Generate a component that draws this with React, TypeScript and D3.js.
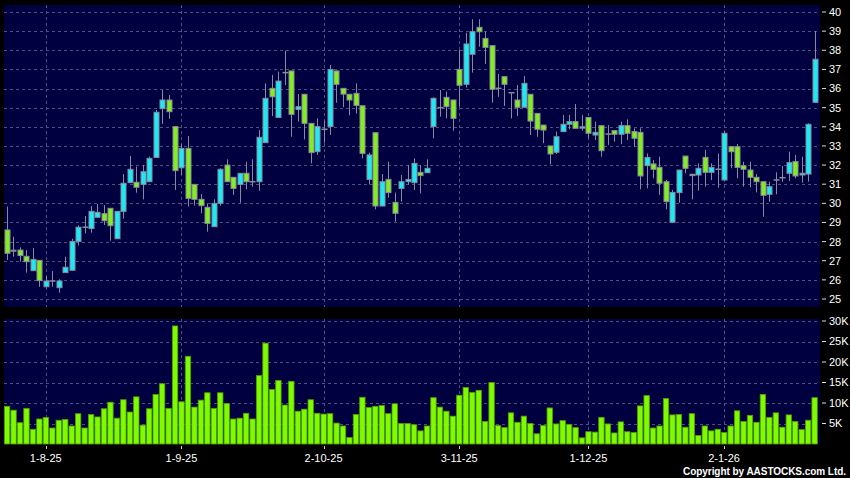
import React from "react";
import * as d3 from "d3";

const opens = [28.61,27.55,27.56,27.23,26.48,27.02,25.64,25.94,25.59,26.38,26.5,28.01,28.75,28.68,29.27,29.46,29.74,28.15,29.58,31.08,31.1,30.99,31.13,32.4,34.95,35.4,34.01,31.86,32.87,30.99,30.21,29.79,28.78,30.0,32.0,31.36,30.99,31.57,31.13,31.13,33.17,36.01,34.49,36.83,36.92,34.91,35.7,34.18,32.7,33.87,34.01,36.92,36.01,35.7,35.75,35.1,31.25,33.69,29.86,31.25,30.05,30.78,31.13,31.08,31.62,31.6,34.01,35.0,35.54,35.4,37.0,36.22,37.79,39.2,38.62,38.24,36.01,36.62,35.78,35.4,35.02,35.7,34.7,34.09,33.0,32.67,33.75,34.13,34.27,33.93,34.49,33.57,34.06,33.62,33.8,33.61,34.06,33.75,33.71,31.97,32.06,31.88,31.13,29.01,30.56,32.47,31.52,31.48,32.4,31.62,31.78,31.22,32.96,32.96,31.97,31.74,31.36,31.13,30.47,31.22,31.34,31.57,32.18,31.48,31.53,35.28];
const highs = [29.83,28.26,27.7,27.56,27.67,27.02,26.2,26.46,26.03,27.21,28.15,28.85,29.34,29.86,29.96,29.91,29.74,29.58,31.53,32.47,31.92,32.0,32.44,34.88,35.92,35.66,34.01,33.1,33.52,30.99,30.49,30.0,30.21,31.83,32.3,31.36,31.57,32.18,32.3,33.83,36.27,36.71,36.88,37.98,36.92,35.71,35.7,34.18,34.44,34.32,37.23,36.92,36.01,35.7,36.27,35.1,32.65,33.69,31.53,32.18,30.56,31.48,32.0,32.35,32.0,32.3,35.54,35.92,35.84,35.4,38.01,38.92,39.62,39.62,38.97,38.24,36.76,36.62,35.78,36.18,36.65,35.7,34.7,34.09,33.0,33.75,34.62,34.62,35.19,34.62,34.49,34.27,34.06,34.09,33.8,34.27,34.39,33.92,33.92,32.61,32.26,32.44,31.22,30.7,31.74,32.47,31.52,32.09,32.79,32.09,32.61,33.8,32.96,33.1,32.18,32.18,31.53,31.13,31.13,31.62,31.95,32.7,32.53,32.44,34.18,39.0];
const lows = [27.04,27.21,26.95,26.38,26.48,25.64,25.64,25.64,25.33,26.38,26.5,27.79,28.43,28.47,29.27,28.87,28.05,28.15,29.2,31.08,30.56,30.21,31.13,32.4,34.15,34.42,30.7,31.48,29.83,29.88,29.48,28.52,28.78,29.88,31.13,30.44,30.03,30.73,30.87,30.66,33.17,34.56,34.49,36.18,33.48,34.27,33.34,32.09,32.53,33.17,33.57,35.26,35.02,34.6,34.7,32.35,30.99,29.69,29.86,30.3,29.04,30.09,30.96,30.7,30.52,31.6,33.4,34.53,34.44,33.8,35.05,36.05,36.83,38.19,37.28,35.26,35.57,35.09,34.44,34.56,35.02,33.57,33.48,33.14,32.04,32.58,33.75,33.87,33.92,33.8,33.4,33.31,32.44,33.05,33.22,33.1,33.31,32.96,30.73,30.78,31.31,30.44,29.69,29.01,30.03,31.57,30.21,30.66,30.87,31.22,30.82,31.22,31.83,31.31,30.87,30.84,30.57,29.3,30.09,30.47,31.13,31.17,31.31,31.08,31.13,35.28];
const closes = [27.39,27.5,27.27,26.95,27.07,25.96,25.94,25.94,25.94,26.66,28.01,28.75,28.75,29.58,29.53,29.09,28.83,29.58,31.05,31.78,30.84,31.65,32.35,34.76,35.4,34.79,31.71,32.87,30.26,30.21,29.88,28.95,30.0,31.78,31.13,30.78,31.57,31.13,31.13,33.45,35.49,35.57,36.39,36.83,34.65,35.05,34.18,32.65,34.01,33.87,37.0,36.22,35.71,35.4,35.12,32.61,32.53,29.86,31.13,30.56,29.48,31.13,31.25,32.09,31.45,31.83,35.49,35.0,35.05,34.44,36.17,38.33,38.97,38.97,38.15,35.96,36.01,36.22,35.78,35.02,36.27,34.3,33.87,33.83,32.58,33.48,34.13,34.27,33.92,34.0,33.66,33.71,32.75,33.62,33.61,34.06,33.66,33.4,31.43,32.4,31.78,31.05,30.09,30.57,31.74,31.83,31.45,31.83,31.62,31.88,31.78,33.66,32.7,31.88,31.78,31.36,31.13,30.42,30.87,31.22,31.34,32.13,31.43,31.57,34.13,37.53];
const volumesK = [9.2,8.25,5.2,8.7,3.6,6.1,6.5,3.9,5.8,6.0,4.4,7.4,3.9,7.2,6.6,8.6,10.2,6.3,10.8,7.8,11.5,4.6,8.6,12.1,14.7,8.7,28.8,10.3,21.4,9.0,10.7,12.5,8.7,12.5,9.9,6.1,6.3,7.5,6.1,16.7,24.6,13.3,15.5,9.5,15.3,8.0,8.5,10.8,7.5,7.3,7.4,5.1,4.4,1.6,7.2,11.4,8.9,9.2,9.4,7.4,9.8,5.0,5.0,4.7,3.2,4.4,11.3,9.0,8.0,6.8,11.9,13.8,12.6,13.1,5.5,15.0,4.5,4.0,7.6,5.3,6.8,5.0,2.5,4.5,8.8,4.9,5.7,4.8,4.0,1.5,3.0,2.9,6.5,4.9,2.7,5.4,3.0,2.8,9.3,11.8,3.9,4.4,11.1,7.1,7.2,4.1,7.4,2.1,4.4,3.2,3.6,2.8,4.4,8.1,5.5,7.0,5.3,12.1,6.5,7.6,4.1,7.1,5.5,3.5,5.8,11.3];

const dateTickLabels = ["1-8-25", "1-9-25", "2-10-25", "3-11-25", "1-12-25", "2-1-26"];
const dateTickIndex = [6, 27, 49, 70, 90, 111];
const priceTicks = [25, 26, 27, 28, 29, 30, 31, 32, 33, 34, 35, 36, 37, 38, 39, 40];
const volumeTicksK = [5, 10, 15, 20, 25, 30];

const W = 850, H = 478;
const PL = 4, PR = 820;
const P_TOP = 5, P_BOT = 307;
const V_TOP = 319, V_BOT = 444;
const BG = "#000040";
const GRID = "#50507e";
const UP = "#19eaf3";
const DOWN = "#82ee1f";
const EDGE = "#8a8a9e";
const FONT = "'Liberation Sans', Arial, sans-serif";

export default function App() {
  const n = closes.length;
  const x = d3.scaleLinear().domain([0, n - 1]).range([7, 814.5]);
  const y = d3.scaleLinear().domain([25, 40]).range([299, 12]);
  const yv = d3.scaleLinear().domain([0, 30]).range([V_BOT, 321]);
  const bw = 5;

  return (
    <svg width={W} height={H} style={{ position: "absolute", left: 0, top: 0, display: "block" }} fontFamily={FONT}>
      <rect x={0} y={0} width={W} height={H} fill="#000" />
      <rect x={PL} y={P_TOP} width={PR - PL} height={P_BOT - P_TOP} fill={BG} />
      <rect x={PL} y={V_TOP} width={PR - PL} height={V_BOT - V_TOP} fill={BG} />
      {priceTicks.map((p) => (
        <line key={"pg" + p} x1={PL} x2={PR} y1={Math.round(y(p)) + 0.5} y2={Math.round(y(p)) + 0.5} stroke={GRID} strokeDasharray="3,3" />
      ))}
      {volumeTicksK.map((v) => (
        <line key={"vg" + v} x1={PL} x2={PR} y1={Math.round(yv(v)) + 0.5} y2={Math.round(yv(v)) + 0.5} stroke={GRID} strokeDasharray="3,3" />
      ))}
      {dateTickIndex.map((i) => {
        const xx = Math.round(x(i)) + 0.5;
        return (
          <g key={"xg" + i}>
            <line x1={xx} x2={xx} y1={P_TOP} y2={P_BOT} stroke={GRID} strokeDasharray="3,3" />
            <line x1={xx} x2={xx} y1={V_TOP} y2={V_BOT} stroke={GRID} strokeDasharray="3,3" />
            <line x1={xx} x2={xx} y1={V_BOT + 2} y2={V_BOT + 5} stroke="#ccc" />
          </g>
        );
      })}
      {closes.map((c, i) => {
        const o = opens[i];
        const cx = Math.round(x(i)) + 0.5;
        const top = y(Math.max(o, c));
        const bot = y(Math.min(o, c));
        const doji = Math.abs(o - c) < 0.001;
        return (
          <g key={"c" + i}>
            <line x1={cx} x2={cx} y1={y(highs[i])} y2={y(lows[i])} stroke={EDGE} strokeWidth={1} />
            {doji ? (
              <line x1={cx - 3} x2={cx + 3} y1={top} y2={top} stroke={EDGE} strokeWidth={1.5} />
            ) : (
              <rect x={cx - bw / 2} y={top} width={bw} height={Math.max(1, bot - top)} fill={c > o ? UP : DOWN} stroke={EDGE} strokeWidth={1} />
            )}
          </g>
        );
      })}
      {volumesK.map((v, i) => (
        <rect key={"v" + i} x={x(i) - 2.6} y={yv(v)} width={5.4} height={V_BOT - yv(v)} fill="#80fa00" stroke="#4c9e00" strokeWidth={0.8} />
      ))}
      {priceTicks.map((p) => (
        <g key={"pt" + p}>
          <line x1={822} x2={826} y1={y(p)} y2={y(p)} stroke="#ddd" />
          <text x={829} y={y(p)} dy="0.36em" fill="#fff" fontSize={11}>{p}</text>
        </g>
      ))}
      {volumeTicksK.map((v) => (
        <g key={"vt" + v}>
          <line x1={822} x2={826} y1={yv(v)} y2={yv(v)} stroke="#ddd" />
          <text x={829} y={yv(v)} dy="0.36em" fill="#fff" fontSize={11}>{v + "K"}</text>
        </g>
      ))}
      {dateTickIndex.map((i, k) => (
        <text key={"dl" + i} x={x(i)} y={462} textAnchor="middle" fill="#fff" fontSize={11}>{dateTickLabels[k]}</text>
      ))}
      <text x={846} y={475} textAnchor="end" fill="#fff" fontSize={10} fontWeight="bold" textLength={163} lengthAdjust="spacing">Copyright by AASTOCKS.com Ltd.</text>
    </svg>
  );
}
